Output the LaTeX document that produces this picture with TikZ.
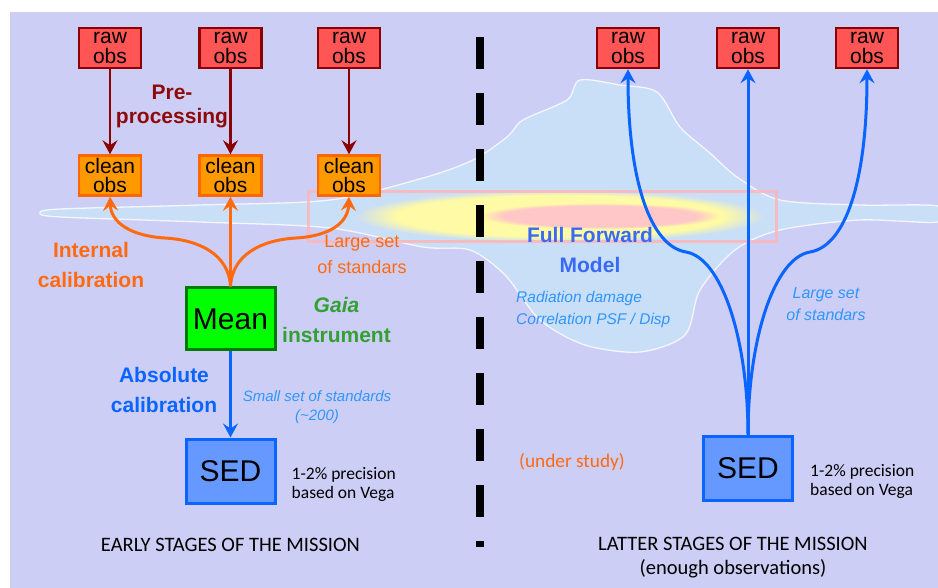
\documentclass[tikz,border=0pt]{standalone}
\usepackage{fontspec}
\setmainfont{Liberation Sans}
\newfontfamily\calibfont{Carlito}
\usetikzlibrary{positioning,arrows.meta,fadings}

\definecolor{bgcol}{HTML}{CDCEF5}
\definecolor{rawfill}{HTML}{FF5555}
\definecolor{rawline}{HTML}{8B0000}
\definecolor{cleanfill}{HTML}{FF9900}
\definecolor{cleanline}{HTML}{FF6600}
\definecolor{prered}{HTML}{8E0A0A}
\definecolor{calorange}{HTML}{FF6A10}
\definecolor{meanfill}{HTML}{00FF00}
\definecolor{meanline}{HTML}{007A00}
\definecolor{gaiagreen}{HTML}{33A033}
\definecolor{absblue}{HTML}{0A64FF}
\definecolor{sedfill}{HTML}{6699FF}
\definecolor{skyblue}{HTML}{2E96FF}
\definecolor{ffmblue}{HTML}{3A6AF5}
\definecolor{galcyan}{HTML}{C6F2FA}
\definecolor{pinkframe}{HTML}{FFB4B4}

\begin{document}
\begin{tikzpicture}[
    x=1pt, y=-1pt,
    every node/.style={inner sep=0pt},
    >={Stealth[length=14pt,width=15pt,inset=5pt]},
    rawbox/.style={draw=rawline, line width=2.5pt, fill=rawfill,
      minimum width=62pt, minimum height=40pt, align=center,
      font=\fontsize{21}{19.5}\selectfont},
    cleanbox/.style={rawbox, draw=cleanline, fill=cleanfill},
    meanbox/.style={draw=meanline, line width=3pt, fill=meanfill,
      minimum width=89pt, minimum height=62pt, font=\fontsize{30}{30}\selectfont},
    sedbox/.style={meanbox, draw=absblue, fill=sedfill, minimum height=64pt},
    boldlbl/.style={align=center, font=\bfseries\fontsize{21}{29.5}\selectfont},
    itlbl/.style={align=center, text=skyblue, font=\itshape\fontsize{15.5}{22}\selectfont},
    preclbl/.style={align=left, font=\calibfont\fontsize{17.5}{19}\selectfont},
    stagelbl/.style={align=center, font=\calibfont\fontsize{20.5}{24}\selectfont},
    prearrow/.style={->, draw=rawline, line width=2.5pt},
    calarrow/.style={->, draw=calorange, line width=3pt},
    absarrow/.style={->, draw=absblue, line width=3pt}
  ]
  \useasboundingbox (0,0) rectangle (938,588);
  \fill[bgcol] (10,12) rectangle (938,588);

  % faint galaxy picture behind the slide
  \fill[galcyan, opacity=0.45] plot[smooth cycle] coordinates {
    (580,80) (620,85) (657,92) (680,127) (710,153) (737,177) (780,200)
    (860,205) (938,206) (938,222) (860,220) (780,230) (735,250) (700,290)
    (685,335) (640,352) (585,345) (540,320) (505,275) (470,250) (423,247)
    (330,228) (200,222) (60,217) (40,213) (60,209) (200,205) (330,200)
    (423,178) (473,160) (507,137) (523,120) (567,100)};
  \draw[white, line width=1.3pt, opacity=0.8] plot[smooth cycle] coordinates {
    (580,80) (620,85) (657,92) (680,127) (710,153) (737,177) (780,200)
    (860,205) (938,206) (938,222) (860,220) (780,230) (735,250) (700,290)
    (685,335) (640,352) (585,345) (540,320) (505,275) (470,250) (423,247)
    (330,228) (200,222) (60,217) (40,213) (60,209) (200,205) (330,200)
    (423,178) (473,160) (507,137) (523,120) (567,100)};
  \fill[yellow!35!white, path fading=circle with fuzzy edge 20 percent] (560,216) ellipse [x radius=205, y radius=26];
  \fill[red!22!white, path fading=circle with fuzzy edge 20 percent] (600,216) ellipse [x radius=120, y radius=13];
  \draw[pinkframe, line width=3pt, opacity=0.8] (308,192) rectangle (776,242);

  % divider
  \draw[line width=8pt, dash pattern=on 32pt off 24pt] (480,37) -- (480,547);

  % Early stages
  \node[rawbox] (rawA) at (110,48) {raw\\obs};
  \node[rawbox] (rawB) at (230.5,48) {raw\\obs};
  \node[rawbox] (rawC) at (349,48) {raw\\obs};
  \node[cleanbox, below=85pt of rawA] (cleanA) {clean\\obs};
  \node[cleanbox, below=85pt of rawB] (cleanB) {clean\\obs};
  \node[cleanbox, below=85pt of rawC] (cleanC) {clean\\obs};
  \node[meanbox] (mean) at (230.5,319) {Mean};
  \node[sedbox, below=86pt of mean] (sedL) {SED};

  \draw[prearrow] (rawA) -- (cleanA);
  \draw[prearrow] (rawB) -- (cleanB);
  \draw[prearrow] (rawC) -- (cleanC);

  \draw[calarrow] (mean.north) .. controls (229,255) and (200,240) .. (165,238)
    .. controls (130,236) and (111,222) .. (cleanA.south);
  \draw[calarrow] (mean.north) -- (cleanB.south);
  \draw[calarrow] (mean.north) .. controls (232,255) and (261,240) .. (296,238)
    .. controls (331,236) and (348,222) .. (cleanC.south);
  \draw[absarrow] (mean) -- (sedL);

  \node[boldlbl, text=prered, font=\bfseries\fontsize{21}{24}\selectfont] (preproc) at (172,107) {Pre-\\processing};
  \node[boldlbl, text=calorange] (intcal) at (91,265) {Internal\\calibration};
  \node[align=center, text=calorange, font=\fontsize{18}{26}\selectfont] (largeL) at (362,254) {Large set\\of standars};
  \node[boldlbl, text=gaiagreen] (gaia) at (336.5,320) {\textit{Gaia}\\instrument};
  \node[boldlbl, text=absblue] (abscal) at (164,390) {Absolute\\calibration};
  \node[itlbl, font=\itshape\fontsize{15}{19}\selectfont] (smallset) at (317,407) {Small set of standards\\(\textasciitilde200)};
  \node[preclbl, right=15pt of sedL, yshift=-13pt] (precL) {1-2\% precision\\based on Vega};
  \node[stagelbl] (early) at (230.5,545) {EARLY STAGES OF THE MISSION};

  % Latter stages
  \node[rawbox] (rawD) at (628,48) {raw\\obs};
  \node[rawbox] (rawE) at (748,48) {raw\\obs};
  \node[rawbox] (rawF) at (867,48) {raw\\obs};
  \node[sedbox] (sedR) at (748,468) {SED};

  \draw[absarrow] (sedR.north) .. controls (748,340) and (722,258) .. (686,252)
    .. controls (650,246) and (628,180) .. (rawD.south);
  \draw[absarrow] (sedR.north) -- (rawE.south);
  \draw[absarrow] (sedR.north) .. controls (748,340) and (774,258) .. (810,252)
    .. controls (846,246) and (867,180) .. (rawF.south);

  \node[boldlbl, text=ffmblue] (ffm) at (590,250) {Full Forward\\Model};
  \node[itlbl, align=left, anchor=west] (radiation) at (516,309) {Radiation damage\\Correlation PSF / Disp};
  \node[itlbl, font=\itshape\fontsize{16}{22}\selectfont] (largeR) at (826,304) {Large set\\of standars};
  \node[text=calorange, font=\calibfont\fontsize{19.3}{22}\selectfont] (study) at (572,462) {(under study)};
  \node[preclbl, right=16pt of sedR, yshift=-13pt] (precR) {1-2\% precision\\based on Vega};
  \node[stagelbl] (latter) at (733,558) {LATTER STAGES OF THE MISSION\\(enough observations)};
\end{tikzpicture}
\end{document}
